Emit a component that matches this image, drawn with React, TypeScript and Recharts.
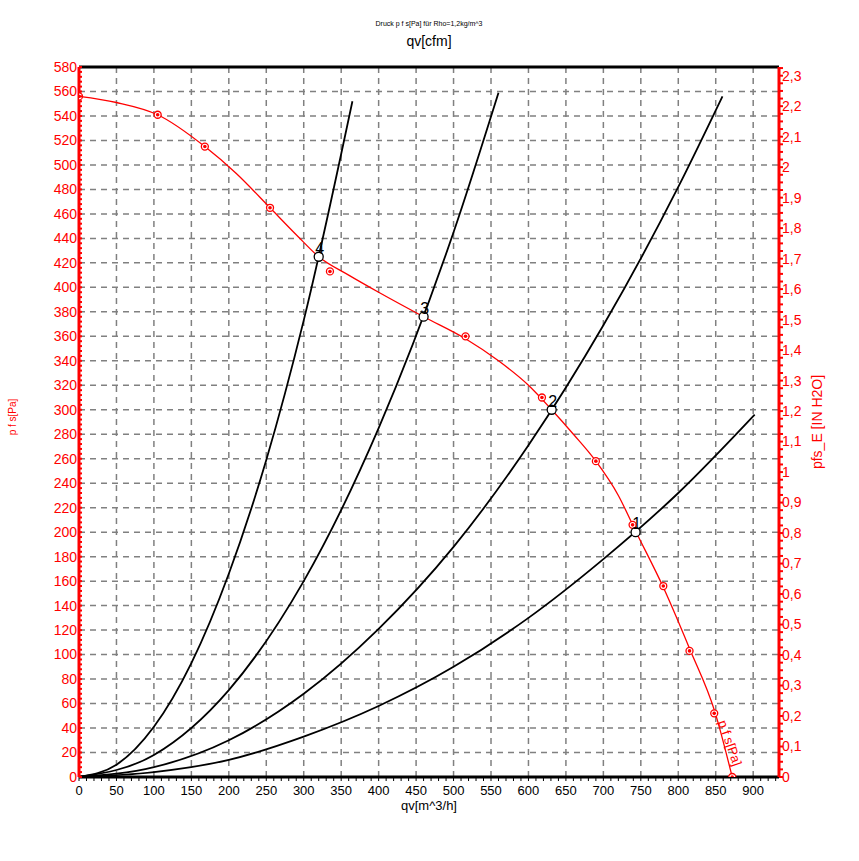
import {
  ComposedChart,
  Line,
  Scatter,
  XAxis,
  YAxis,
  ReferenceLine,
  ReferenceDot,
} from "recharts";

// unit conversions for the secondary axes
const M3H_PER_CFM = 1.699011;
const PA_PER_INH2O = 249.089;

const Q_MAX_CFM = 550;
const P_MAX = 580;

// tick labels
const qTicks = [0, 50, 100, 150, 200, 250, 300, 350, 400, 450, 500, 550, 600, 650, 700, 750, 800, 850, 900];
const cfmTicks = [0, 50, 100, 150, 200, 250, 300, 350, 400, 450, 500, 550];
const paTicks = [0, 20, 40, 60, 80, 100, 120, 140, 160, 180, 200, 220, 240, 260, 280, 300, 320, 340, 360, 380, 400, 420, 440, 460, 480, 500, 520, 540, 560, 580];
const inTicks = [0, 0.1, 0.2, 0.3, 0.4, 0.5, 0.6, 0.7, 0.8, 0.9, 1, 1.1, 1.2, 1.3, 1.4, 1.5, 1.6, 1.7, 1.8, 1.9, 2, 2.1, 2.2, 2.3];

// fan curve p f s [Pa] over qv [m^3/h]
const fanQ = [0, 50, 105, 168, 210, 255, 290, 320, 360, 400, 460, 516, 560, 600, 631, 660, 690, 720, 743, 780, 815, 849, 872];
const fanP = [556, 551, 541, 515, 493, 465, 443, 425, 410, 396, 376, 358, 340, 320, 300, 280, 258, 230, 201, 155, 105, 53, 0];

// measured points on the fan curve
const measQ = [0, 105, 168, 255, 335, 516, 618, 690, 739, 780, 815, 848, 872];
const measP = [556, 541, 515, 465, 413, 360, 310, 258, 206, 156, 103, 52, 0];

// system curves 1..4
const sys1Q = [0, 100, 200, 300, 400, 500, 600, 700, 800, 902];
const sys1P = [0, 4, 14, 33, 58, 90, 130, 178, 232, 296];
const sys2Q = [0, 100, 200, 300, 400, 500, 600, 700, 800, 859];
const sys2P = [0, 8, 30, 68, 121, 188, 271, 369, 482, 556];
const sys3Q = [0, 100, 200, 300, 400, 500, 560];
const sys3P = [0, 18, 71, 160, 285, 445, 559];
const sys4Q = [0, 50, 100, 150, 200, 250, 300, 365];
const sys4P = [0, 10, 41, 93, 166, 259, 373, 552];

// operating points
const opNames = ["1", "2", "3", "4"];
const opQ = [743, 631, 460, 320];
const opP = [200, 300, 376, 425];

const toRows = (qs: number[], ps: number[]) => qs.map((q, i) => ({ q, p: ps[i] }));

const fanData = toRows(fanQ, fanP);
const measData = toRows(measQ, measP);
const sysCurves = [
  toRows(sys1Q, sys1P),
  toRows(sys2Q, sys2P),
  toRows(sys3Q, sys3P),
  toRows(sys4Q, sys4P),
];
const opData = opQ.map((q, i) => ({ q, p: opP[i], name: opNames[i] }));

// minor tick values
const range = (n: number, step: number) => Array.from({ length: n }, (_, i) => +(i * step).toFixed(4));
const qMinor = range(94, 10);
const cfmMinor = range(45, 12.5);
const paMinor = range(146, 4);
const inMinor = range(94, 0.025);

const RED = "#ff0000";
const FONT = "'Liberation Sans', Arial, sans-serif";

const near = (v: number, list: number[]) => list.some((t) => Math.abs(t - v) < 1e-6);
const fmtIn = (v: number) => String(+v.toFixed(1)).replace(".", ",");

const BottomTick = ({ x, y, payload }: any) => (
  <g>
    <line x1={x} x2={x} y1={y} y2={y + 4} stroke="#000" />
    {near(payload.value, qTicks) && (
      <text x={x} y={y + 18} textAnchor="middle" fontSize={13} fontFamily={FONT} fill="#000">
        {payload.value}
      </text>
    )}
  </g>
);

const TopTick = ({ x, y, payload }: any) => (
  <g>
    <line x1={x} x2={x} y1={y} y2={y - 3} stroke="#000" />
    {near(payload.value, cfmTicks) && (
      <text x={x} y={y - 7} textAnchor="middle" fontSize={13} fontFamily={FONT} fill="#000">
        {payload.value}
      </text>
    )}
  </g>
);

const LeftTick = ({ x, y, payload }: any) => (
  <g>
    <line x1={x} x2={x + 3} y1={y} y2={y} stroke={RED} strokeWidth={2} />
    {near(payload.value, paTicks) && (
      <text x={x - 2} y={y} dy="0.35em" textAnchor="end" fontSize={14} fontFamily={FONT} fill={RED}>
        {payload.value}
      </text>
    )}
  </g>
);

const RightTick = ({ x, y, payload }: any) => (
  <g>
    <line x1={x} x2={x + 4} y1={y} y2={y} stroke={RED} strokeWidth={2} />
    {near(payload.value, inTicks) && (
      <text x={x + 3} y={y} dy="0.35em" textAnchor="start" fontSize={14} fontFamily={FONT} fill={RED}>
        {fmtIn(payload.value)}
      </text>
    )}
  </g>
);

const MeasDot = ({ cx, cy }: any) => (
  <g>
    <circle cx={cx} cy={cy} r={3.5} fill="#fff" stroke={RED} strokeWidth={1.3} />
    <circle cx={cx} cy={cy} r={1.8} fill={RED} />
  </g>
);

const OpDot = ({ cx, cy, payload }: any) => (
  <g>
    <circle cx={cx} cy={cy} r={4.5} fill="#fff" stroke="#000" strokeWidth={1.3} />
    <text x={cx + 1} y={cy - 3} textAnchor="middle" fontSize={16} fontFamily={FONT} fill="#000">
      {payload.name}
    </text>
  </g>
);

export default function App() {
  const gridStroke = "#808080";
  return (
    <div style={{ position: "absolute", left: 0, top: 0, background: "#fff" }}>
      <ComposedChart width={859} height={861} margin={{ top: 0, right: 0, bottom: 0, left: 0 }}>
        <XAxis
          xAxisId="q"
          dataKey="q"
          type="number"
          orientation="bottom"
          domain={[0, Q_MAX_CFM * M3H_PER_CFM]}
          ticks={qMinor}
          interval={0}
          height={84}
          tickSize={0}
          tickMargin={0}
          tickLine={false}
          tick={<BottomTick />}
          axisLine={{ stroke: "#000", strokeWidth: 3 }}
          allowDataOverflow
          label={(props: any) => {
            const vb = props.viewBox;
            return (
              <text x={vb.x + vb.width / 2} y={vb.y + 33} textAnchor="middle" fontSize={13} fontFamily={FONT} fill="#000">
                qv[m^3/h]
              </text>
            );
          }}
        />
        <XAxis
          xAxisId="cfm"
          type="number"
          orientation="top"
          domain={[0, Q_MAX_CFM]}
          ticks={cfmMinor}
          interval={0}
          height={67}
          tickSize={0}
          tickMargin={0}
          tickLine={false}
          tick={<TopTick />}
          axisLine={{ stroke: "#000", strokeWidth: 3 }}
          allowDataOverflow
          label={(props: any) => {
            const vb = props.viewBox;
            const cx = vb.x + vb.width / 2;
            return (
              <g>
                <text x={cx} y={vb.y + 26} textAnchor="middle" fontSize={7} fontFamily={FONT} fill="#000">
                  Druck p f s[Pa] für Rho=1,2kg/m^3
                </text>
                <text x={cx} y={vb.y + 46} textAnchor="middle" fontSize={14} fontFamily={FONT} fill="#000">
                  qv[cfm]
                </text>
              </g>
            );
          }}
        />
        <YAxis
          yAxisId="pa"
          type="number"
          orientation="left"
          domain={[0, P_MAX]}
          ticks={paMinor}
          interval={0}
          width={79}
          tickSize={0}
          tickMargin={0}
          tickLine={false}
          tick={<LeftTick />}
          axisLine={{ stroke: RED, strokeWidth: 3 }}
          allowDataOverflow
          label={(props: any) => {
            const vb = props.viewBox;
            const cy = vb.y + vb.height / 2 - 5;
            return (
              <text x={vb.x + 16} y={cy} transform={`rotate(-90 ${vb.x + 16} ${cy})`} textAnchor="middle" fontSize={10} fontFamily={FONT} fill={RED}>
                p f s[Pa]
              </text>
            );
          }}
        />
        <YAxis
          yAxisId="in"
          type="number"
          orientation="right"
          domain={[0, P_MAX / PA_PER_INH2O]}
          ticks={inMinor}
          interval={0}
          width={80}
          tickSize={0}
          tickMargin={0}
          tickLine={false}
          tick={<RightTick />}
          axisLine={{ stroke: RED, strokeWidth: 3 }}
          allowDataOverflow
          label={(props: any) => {
            const vb = props.viewBox;
            const cy = vb.y + vb.height / 2;
            const x = vb.x + 43;
            return (
              <text x={x} y={cy} transform={`rotate(-90 ${x} ${cy})`} textAnchor="middle" fontSize={14} fontFamily={FONT} fill={RED}>
                pfs_E [IN H2O]
              </text>
            );
          }}
        />

        {qTicks.slice(1).map((v) => (
          <ReferenceLine key={`gx${v}`} xAxisId="q" yAxisId="pa" x={v} stroke={gridStroke} strokeWidth={1.5} strokeDasharray="6 5" />
        ))}
        {paTicks.slice(1, -1).map((v) => (
          <ReferenceLine key={`gy${v}`} xAxisId="q" yAxisId="pa" y={v} stroke={gridStroke} strokeWidth={1.5} strokeDasharray="6 5" />
        ))}

        {sysCurves.map((d, i) => (
          <Line
            key={`sys${i}`}
            xAxisId="q"
            yAxisId="pa"
            data={d}
            dataKey="p"
            type="monotone"
            stroke="#000"
            strokeWidth={1.8}
            dot={false}
            isAnimationActive={false}
          />
        ))}
        <Line
          xAxisId="q"
          yAxisId="pa"
          data={fanData}
          dataKey="p"
          type="monotone"
          stroke={RED}
          strokeWidth={1.3}
          dot={false}
          isAnimationActive={false}
        />
        <Scatter xAxisId="q" yAxisId="pa" data={measData} dataKey="p" shape={<MeasDot />} isAnimationActive={false} />
        <Scatter xAxisId="q" yAxisId="pa" data={opData} dataKey="p" shape={<OpDot />} isAnimationActive={false} />

        <ReferenceDot
          xAxisId="q"
          yAxisId="pa"
          x={853}
          y={45}
          r={0}
          shape={(p: any) => (
            <text x={p.cx} y={p.cy} transform={`rotate(71 ${p.cx} ${p.cy})`} fontSize={13} fontFamily={FONT} fill={RED}>
              p f s[Pa]
            </text>
          )}
        />
      </ComposedChart>
    </div>
  );
}
